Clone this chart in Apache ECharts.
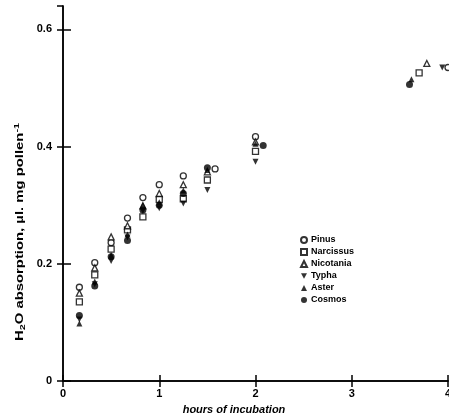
<!DOCTYPE html>
<html>
<head>
<meta charset="utf-8">
<script src="https://cdn.jsdelivr.net/npm/echarts@6/dist/echarts.min.js"></script>
<style>
  html, body { margin: 0; padding: 0; background: #fff; }
  #chart { width: 449px; height: 420px; }
</style>
</head>
<body>
<div id="chart"></div>
<script>
// hours of incubation / H2O absorption per species
var pinusX      = [0.17, 0.33, 0.5, 0.67, 0.83, 1.0, 1.25, 1.58, 2.0, 4.0];
var pinusY      = [0.160, 0.202, 0.236, 0.278, 0.313, 0.335, 0.350, 0.362, 0.417, 0.535];
var narcissusX  = [0.17, 0.33, 0.5, 0.67, 0.83, 1.0, 1.25, 1.5, 2.0, 3.7];
var narcissusY  = [0.135, 0.181, 0.225, 0.258, 0.280, 0.310, 0.311, 0.343, 0.392, 0.526];
var nicotaniaX  = [0.17, 0.33, 0.5, 0.67, 0.83, 1.0, 1.25, 1.5, 2.0, 3.78];
var nicotaniaY  = [0.150, 0.193, 0.246, 0.265, 0.299, 0.320, 0.335, 0.357, 0.408, 0.542];
var typhaX      = [0.17, 0.33, 0.5, 0.67, 0.83, 1.0, 1.25, 1.5, 2.0, 3.94];
var typhaY      = [0.105, 0.165, 0.205, 0.245, 0.290, 0.295, 0.303, 0.326, 0.374, 0.535];
var asterX      = [0.17, 0.33, 0.5, 0.67, 0.83, 1.0, 1.25, 1.5, 2.0, 3.62];
var asterY      = [0.098, 0.170, 0.215, 0.250, 0.300, 0.305, 0.325, 0.360, 0.405, 0.515];
var cosmosX     = [0.17, 0.33, 0.5, 0.67, 0.83, 1.0, 1.25, 1.5, 2.08, 3.6];
var cosmosY     = [0.112, 0.162, 0.212, 0.240, 0.292, 0.300, 0.320, 0.364, 0.402, 0.506];

var xTicks = ['0', '1', '2', '3', '4'];
var yTicks = ['0', '0.2', '0.4', '0.6'];

function pairs(xs, ys) {
    var out = [];
    for (var i = 0; i < xs.length; i++) {
        out.push([xs[i], ys[i]]);
    }
    return out;
}

var openStyle = { color: '#fff', borderColor: '#000', borderWidth: 1.3 };
var fillStyle = { color: '#000', borderColor: '#000', borderWidth: 0 };
var downTri = 'path://M0,0 L10,0 L5,9 Z';

var seriesDefs = [
    { name: 'Pinus', x: pinusX, y: pinusY, symbol: 'circle', size: 6, style: openStyle },
    { name: 'Narcissus', x: narcissusX, y: narcissusY, symbol: 'rect', size: 6, style: openStyle },
    { name: 'Nicotania', x: nicotaniaX, y: nicotaniaY, symbol: 'triangle', size: 6, style: openStyle },
    { name: 'Typha', x: typhaX, y: typhaY, symbol: downTri, size: 6, style: fillStyle },
    { name: 'Aster', x: asterX, y: asterY, symbol: 'triangle', size: 6, style: fillStyle },
    { name: 'Cosmos', x: cosmosX, y: cosmosY, symbol: 'circle', size: 7, style: fillStyle }
];

var series = [];
for (var i = 0; i < seriesDefs.length; i++) {
    var d = seriesDefs[i];
    series.push({
        type: 'scatter',
        name: d.name,
        symbol: d.symbol,
        symbolSize: d.size,
        itemStyle: d.style,
        data: pairs(d.x, d.y)
    });
}

var axisFont = { color: '#000', fontFamily: 'Liberation Sans', fontWeight: 'bold', fontSize: 11 };
var lineSt = { color: '#000', width: 1.5 };

var option = {
    backgroundColor: '#fff',
    animation: false,
    grid: { left: 63, right: 1, top: 6, bottom: 39, outerBoundsMode: 'none' },
    legend: {
        orient: 'vertical',
        left: 300,
        top: 235,
        padding: 0,
        itemWidth: 6,
        itemHeight: 6,
        itemGap: 2,
        data: ['Pinus', 'Narcissus', 'Nicotania', 'Typha', 'Aster', 'Cosmos'],
        textStyle: { color: '#000', fontFamily: 'Liberation Sans', fontWeight: 'bold', fontSize: 9, lineHeight: 10, padding: [0, 0, 0, -1] }
    },
    xAxis: [
        {
            type: 'value', min: 0, max: 4, interval: 1,
            axisLine: { lineStyle: lineSt },
            axisTick: { inside: true, length: 6, lineStyle: lineSt },
            axisLabel: {
                margin: 7,
                textStyle: axisFont,
                formatter: function (v) { return xTicks[Math.round(v)]; }
            },
            splitLine: { show: false }
        },
        {
            type: 'value', position: 'top', min: 0, max: 4, interval: 1,
            axisLine: { lineStyle: lineSt },
            axisTick: { inside: true, length: 6, lineStyle: lineSt },
            axisLabel: { show: false },
            splitLine: { show: false }
        }
    ],
    yAxis: [
        {
            type: 'value', min: 0, max: 0.64, interval: 0.2,
            axisLine: { lineStyle: lineSt },
            axisTick: { inside: true, length: 8, lineStyle: lineSt },
            axisLabel: {
                margin: 11,
                showMaxLabel: false,
                textStyle: axisFont,
                formatter: function (v) {
                    var k = v / 0.2;
                    return Math.abs(k - Math.round(k)) < 1e-6 ? yTicks[Math.round(k)] : '';
                }
            },
            splitLine: { show: false }
        },
        {
            type: 'value', position: 'right', min: 0, max: 0.64, interval: 0.2,
            axisLine: { lineStyle: lineSt },
            axisTick: { inside: true, length: 6, lineStyle: lineSt },
            axisLabel: { show: false },
            splitLine: { show: false }
        }
    ],
    graphic: [
        {
            type: 'text',
            x: 234, y: 410,
            style: {
                text: 'hours of incubation',
                font: 'italic bold 11px "Liberation Sans"',
                fill: '#000',
                align: 'center',
                verticalAlign: 'middle'
            }
        },
        {
            type: 'text',
            x: 20, y: 232,
            rotation: Math.PI / 2,
            scaleX: 1.35,
            style: {
                text: 'H{sub|2}O absorption, µl. mg pollen{sup|-1}',
                font: 'bold 11px "Liberation Sans"',
                fill: '#000',
                align: 'center',
                verticalAlign: 'middle',
                rich: {
                    sub: { fontSize: 8, fontWeight: 'bold', fontFamily: 'Liberation Sans', verticalAlign: 'bottom', padding: [6, 0, 0, 0] },
                    sup: { fontSize: 8, fontWeight: 'bold', fontFamily: 'Liberation Sans', verticalAlign: 'top', padding: [0, 0, 6, 0] }
                }
            }
        }
    ],
    series: series
};

var myChart = echarts.init(document.getElementById('chart'));
myChart.setOption(option);
</script>
</body>
</html>
